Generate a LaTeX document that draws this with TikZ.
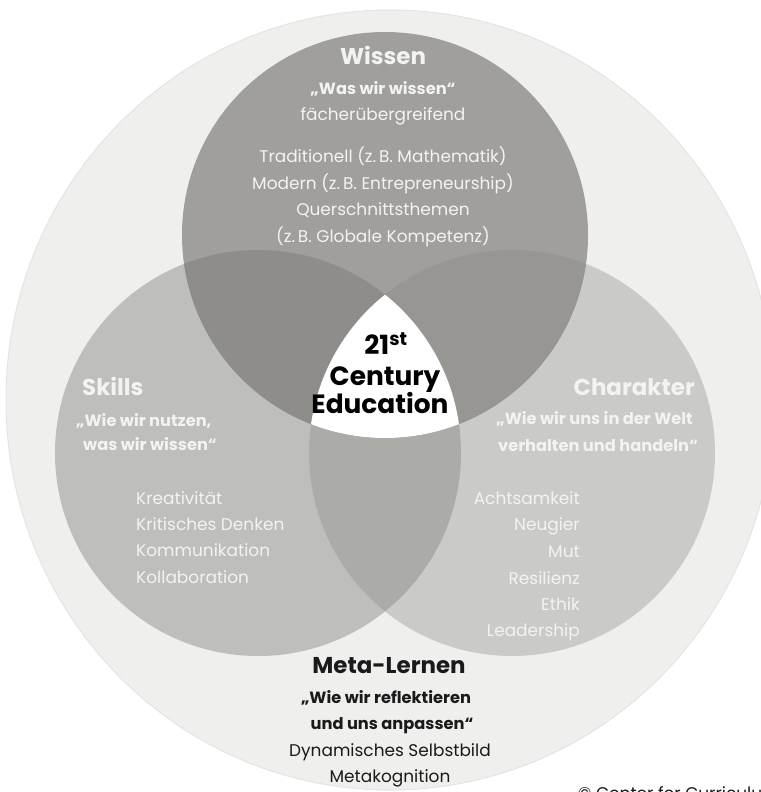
\documentclass[tikz,border=0pt]{standalone}
\usepackage{fontspec}
\setmainfont{Poppins}
\definecolor{outerc}{HTML}{EFEFED}
\definecolor{outerl}{HTML}{E4E4E2}
\definecolor{wc}{HTML}{A09F9B}
\definecolor{sc}{HTML}{BEBEBC}
\definecolor{cc}{HTML}{CACAC8}
\definecolor{scc}{HTML}{ABABA8}
\definecolor{wsc}{HTML}{8E8D89}
\definecolor{wcc}{HTML}{979692}
\definecolor{lighttxt}{HTML}{F3F3F1}
\definecolor{darktxt}{HTML}{1A1A1A}
\tikzset{
  base/.style={inner sep=0pt, text height=0.7em, text depth=0pt, yshift=-3bp},
  head/.style={base, font=\bfseries\fontsize{23}{27}\selectfont},
  centr/.style={base, font=\bfseries\fontsize{26.5}{30}\selectfont, text=black},
  quot/.style={base, font=\bfseries\fontsize{16.3}{19}\selectfont},
  item/.style={base, font=\fontsize{17}{20}\selectfont},
  lt/.style={text=lighttxt},
  dk/.style={text=darktxt}
}
\begin{document}
\begin{tikzpicture}[x=1bp,y=-1bp]
\useasboundingbox (0,0) rectangle (761,792);
\clip (0,0) rectangle (761,792);
% outer
\fill[outerc] (390,400) ellipse[x radius=384bp, y radius=390bp];
\draw[outerl, line width=1bp] (390,400) ellipse[x radius=384bp, y radius=390bp];
% circles
\coordinate (W) at (385,235);
\coordinate (S) at (258,453);
\coordinate (C) at (512,453);
\fill[sc] (S) circle[radius=203bp];
\fill[cc] (C) circle[radius=203bp];
\fill[wc] (W) circle[radius=203bp];
\begin{scope}
  \clip (S) circle[radius=203bp];
  \fill[scc] (C) circle[radius=203bp];
\end{scope}
\begin{scope}
  \clip (W) circle[radius=203bp];
  \fill[wsc] (S) circle[radius=203bp];
\end{scope}
\begin{scope}
  \clip (W) circle[radius=203bp];
  \fill[wcc] (C) circle[radius=203bp];
\end{scope}
\begin{scope}
  \clip (W) circle[radius=203bp];
  \clip (S) circle[radius=203bp];
  \fill[white] (C) circle[radius=203bp];
\end{scope}
% Wissen
\node[head,lt] (w1) at (383,58) {Wissen};
\node[quot,lt] (w2) at (383,88) {„Was wir wissen“};
\node[item,lt] (w3) at (383,114) {fächerübergreifend};
\node[item,lt] (w4) at (383,156) {Traditionell (z.\,B. Mathematik)};
\node[item,lt] (w5) at (383,183) {Modern (z.\,B. Entrepreneurship)};
\node[item,lt] (w6) at (383,209) {Querschnittsthemen};
\node[item,lt] (w7) at (383,236) {(z.\,B. Globale Kompetenz)};
% center
\node[centr] (c1) at (386,348) {21\textsuperscript{st}};
\node[centr] (c2) at (385,379) {Century};
\node[centr] (c3) at (380,407) {Education};
% Skills
\node[head,lt,anchor=west] (s1) at (82,389) {Skills};
\node[quot,lt,anchor=west] (s2) at (76,420) {„Wie wir nutzen,};
\node[quot,lt,anchor=west] (s3) at (83,444) {was wir wissen“};
\node[item,lt,anchor=west] (s4) at (136,498) {Kreativität};
\node[item,lt,anchor=west] (s5) at (136,524) {Kritisches Denken};
\node[item,lt,anchor=west] (s6) at (136,550) {Kommunikation};
\node[item,lt,anchor=west] (s7) at (136,577) {Kollaboration};
% Charakter
\node[head,lt,anchor=east] (k1) at (695,389) {Charakter};
\node[quot,lt,anchor=east] (k2) at (693,418) {„Wie wir uns in der Welt};
\node[quot,lt,anchor=east] (k3) at (698,445) {verhalten und handeln“};
\node[item,lt,anchor=east] (k4) at (580,498) {Achtsamkeit};
\node[item,lt,anchor=east] (k5) at (580,524) {Neugier};
\node[item,lt,anchor=east] (k6) at (580,551) {Mut};
\node[item,lt,anchor=east] (k7) at (580,578) {Resilienz};
\node[item,lt,anchor=east] (k8) at (580,604) {Ethik};
\node[item,lt,anchor=east] (k9) at (580,630) {Leadership};
% Meta
\node[head,dk] (m1) at (389,667) {Meta-Lernen};
\node[quot,dk] (m2) at (386,697) {„Wie wir reflektieren};
\node[quot,dk] (m3) at (392,723) {und uns anpassen“};
\node[item,dk] (m4) at (390,750) {Dynamisches Selbstbild};
\node[item,dk] (m5) at (390,776) {Metakognition};
% cropped credit
\node[item,dk,anchor=north west] (cr) at (578,789) {© Center for Curriculum Redesign};
\end{tikzpicture}
\end{document}
